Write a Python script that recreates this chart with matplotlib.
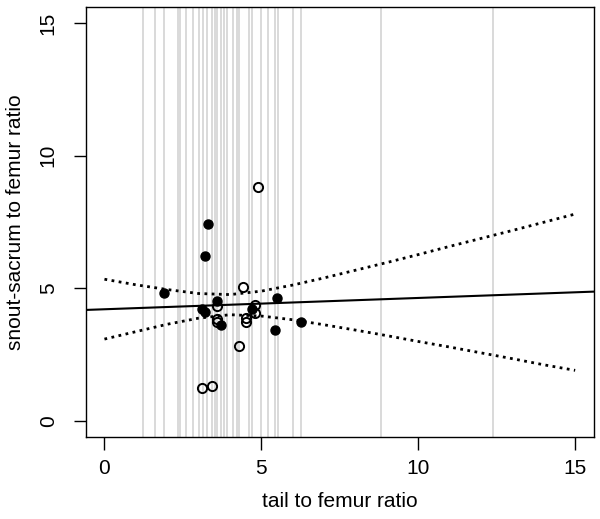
import matplotlib
matplotlib.use("Agg")
from matplotlib import pyplot as plt

# x positions of the grey reference lines (tail to femur ratio of all specimens)
rug_x = [1.22, 1.61, 1.91, 2.34, 2.41, 2.59, 2.83, 3.02, 3.15, 3.26, 3.44, 3.53,
         3.60, 3.71, 3.81, 3.90, 4.11, 4.22, 4.30, 4.61, 4.69, 4.99, 5.22, 5.44,
         5.54, 6.00, 6.26, 8.80, 12.39]

# filled points
filled_x = [3.29, 3.20, 1.91, 5.49, 3.60, 3.10, 3.21, 4.71, 3.71, 5.44, 6.25]
filled_y = [7.43, 6.22, 4.81, 4.62, 4.53, 4.20, 4.12, 4.20, 3.61, 3.42, 3.71]

# open points
open_x = [4.90, 4.41, 3.60, 4.80, 4.80, 3.58, 3.58, 4.50, 4.50, 4.30, 3.10, 3.42]
open_y = [8.83, 5.04, 4.33, 4.36, 4.08, 3.83, 3.74, 3.89, 3.71, 2.82, 1.22, 1.31]

# fitted line
intercept = 4.206
slope = 0.0427

# confidence band
band_x = list(range(0, 16))
band_upper = [5.34, 5.13, 4.95, 4.80, 4.76, 4.89, 5.12, 5.39, 5.68, 5.97, 6.27,
              6.58, 6.88, 7.18, 7.49, 7.80]
band_lower = [3.08, 3.36, 3.64, 3.87, 4.00, 3.95, 3.81, 3.62, 3.42, 3.21, 2.99,
              2.78, 2.56, 2.34, 2.11, 1.90]

ticks = [0, 5, 10, 15]

plt.rcParams['font.family'] = ['Liberation Sans', 'DejaVu Sans']

fig = plt.figure(figsize=(6, 5.19), dpi=100)
ax = fig.add_axes([0.1427, 0.1588, 0.99 - 0.1427, 0.9857 - 0.1588])

for xv in rug_x:
    ax.axvline(xv, color='#cfcfcf', lw=1.1, zorder=1)

ax.axline((0, intercept), slope=slope, color='black', lw=1.5, zorder=2)
ax.plot(band_x, band_upper, color='black', lw=2, ls=(0, (1, 1.6)),
        dash_capstyle='butt', zorder=2)
ax.plot(band_x, band_lower, color='black', lw=2, ls=(0, (1, 1.6)),
        dash_capstyle='butt', zorder=2)

ax.plot(filled_x, filled_y, 'o', color='black', ms=6.5, zorder=3)
ax.plot(open_x, open_y, 'o', mfc='none', mec='black', mew=1.4, ms=6.6, zorder=3)

ax.set_xlim(-0.6, 15.6)
ax.set_ylim(-0.6, 15.6)
ax.set_xticks(ticks)
ax.set_yticks(ticks)
ax.set_yticklabels([str(t) for t in ticks], rotation=90, va='center')
ax.tick_params(direction='out', length=9, width=1, labelsize=15)
ax.tick_params(axis='x', pad=7)
ax.tick_params(axis='y', pad=11)
for s in ax.spines.values():
    s.set_linewidth(1)

ax.set_xlabel('tail to femur ratio', fontsize=15, labelpad=10)
ax.set_ylabel('snout-sacrum to femur ratio', fontsize=15, labelpad=10)

fig.savefig('out.png', dpi=100)
